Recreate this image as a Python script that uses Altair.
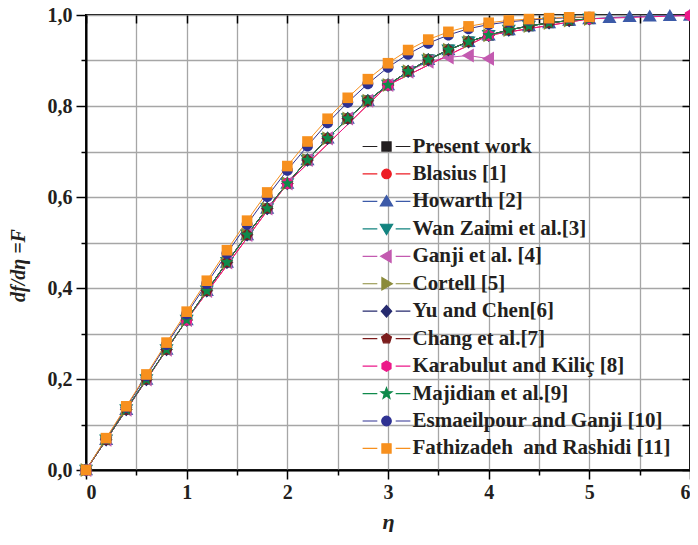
import altair as alt
import pandas as pd

series = ["Present work", "Blasius [1]", "Howarth [2]", "Wan Zaimi et al.[3]",
          "Ganji et al. [4]", "Cortell [5]", "Yu and Chen[6]", "Chang et al.[7]",
          "Karabulut and Kiliç [8]", "Majidian et al.[9]",
          "Esmaeilpour and Ganji [10]", "Fathizadeh\u00a0 and Rashidi [11]"]
colors = ["#231f20", "#ed1c24", "#3c5aa8", "#12837f", "#c35ab0", "#8b8b3a",
          "#262a6e", "#7b1c1c", "#ec1889", "#0f8a4b", "#2e3192", "#f7901e"]

eta_fine = [0.0, 0.2, 0.4, 0.6, 0.8, 1.0, 1.2, 1.4, 1.6, 1.8, 2.0, 2.2, 2.4, 2.6,
            2.8, 3.0, 3.2, 3.4, 3.6, 3.8, 4.0, 4.2, 4.4, 4.6, 4.8, 5.0, 5.2, 5.4,
            5.6, 5.8, 6.0]
f_blasius = [0.0, 0.0664, 0.1328, 0.1989, 0.2647, 0.3298, 0.3938, 0.4563, 0.5168,
             0.5748, 0.6298, 0.6813, 0.7290, 0.7725, 0.8115, 0.8461, 0.8761, 0.9018,
             0.9233, 0.9411, 0.9555, 0.9670, 0.9759, 0.9827, 0.9878, 0.9916, 0.9943,
             0.9962, 0.9975, 0.9984, 0.9990]
eta_int = [0, 1, 2, 3, 4, 5, 6]
f_int = [0.0, 0.3298, 0.6298, 0.8461, 0.9555, 0.9916, 0.9990]
eta_ganji = [0.0, 0.2, 0.4, 0.6, 0.8, 1.0, 1.2, 1.4, 1.6, 1.8, 2.0, 2.2, 2.4, 2.6,
             2.8, 3.0, 3.2, 3.4, 3.6, 3.8, 4.0]
f_ganji = [0.0, 0.0664, 0.1328, 0.1989, 0.2647, 0.3298, 0.3938, 0.4563, 0.5168,
           0.5748, 0.6298, 0.6813, 0.7290, 0.7725, 0.8115, 0.8461, 0.8755, 0.8975,
           0.9070, 0.9110, 0.9040]
eta_to5 = [0.0, 0.2, 0.4, 0.6, 0.8, 1.0, 1.2, 1.4, 1.6, 1.8, 2.0, 2.2, 2.4, 2.6,
           2.8, 3.0, 3.2, 3.4, 3.6, 3.8, 4.0, 4.2, 4.4, 4.6, 4.8, 5.0]
f_esmaeil = [0.0, 0.069, 0.138, 0.207, 0.276, 0.343, 0.410, 0.476, 0.540, 0.601,
             0.659, 0.712, 0.763, 0.808, 0.849, 0.885, 0.914, 0.938, 0.956, 0.970,
             0.979, 0.985, 0.989, 0.992, 0.994, 0.995]
f_fathi = [0.0, 0.070, 0.140, 0.210, 0.280, 0.348, 0.416, 0.483, 0.548, 0.610,
           0.668, 0.722, 0.772, 0.818, 0.859, 0.894, 0.923, 0.946, 0.963, 0.975,
           0.983, 0.988, 0.991, 0.993, 0.995, 0.996]

series_data = [
    (eta_to5, f_blasius[:26]),
    (eta_int[:6], f_int[:6]),
    (eta_fine, f_blasius),
    (eta_to5, f_blasius[:26]),
    (eta_ganji, f_ganji),
    (eta_to5, f_blasius[:26]),
    (eta_to5, f_blasius[:26]),
    (eta_to5, f_blasius[:26]),
    (eta_int, f_int),
    (eta_to5, f_blasius[:26]),
    (eta_to5, f_esmaeil),
    (eta_to5, f_fathi),
]

rows = []
for i, (name, (xs_, ys_)) in enumerate(zip(series, series_data)):
    for e, f in zip(xs_, ys_):
        rows.append({"series": name, "eta": e, "F": f, "k": i})
df = pd.DataFrame(rows)

# marker shapes (unit coordinates)
m_square = "M-0.75,-0.75H0.75V0.75H-0.75Z"
m_circle = "M-0.78,0A0.78,0.78,0,1,0,0.78,0A0.78,0.78,0,1,0,-0.78,0Z"
m_tup = "M0,-0.95L1,0.75L-1,0.75Z"
m_tdown = "M0,0.95L1,-0.75L-1,-0.75Z"
m_tleft = "M-0.95,0L0.75,-1L0.75,1Z"
m_tright = "M0.95,0L-0.75,-1L-0.75,1Z"
m_diamond = "M0,-0.95L0.85,0L0,0.95L-0.85,0Z"
m_pent = "M0,-0.85L0.808,-0.263L0.5,0.688L-0.5,0.688L-0.808,-0.263Z"
m_hex = "M0,-0.85L0.736,-0.425L0.736,0.425L0,0.85L-0.736,0.425L-0.736,-0.425Z"
m_star = ("M0,-0.95L0.235,-0.324L0.904,-0.294L0.38,0.124L0.558,0.769L0,0.4"
          "L-0.558,0.769L-0.38,0.124L-0.904,-0.294L-0.235,-0.324Z")
markers = [m_square, m_circle, m_tup, m_tdown, m_tleft, m_tright, m_diamond,
           m_pent, m_hex, m_star, m_circle, m_square]
leg_line = "M-3.9,0H-1.5M1.5,0H3.9"
legend_shapes = [leg_line + m for m in markers]

FONT = "Liberation Serif"
x_vals = [0, 0.5, 1, 1.5, 2, 2.5, 3, 3.5, 4, 4.5, 5, 5.5, 6]
y_vals = [0, 0.1, 0.2, 0.3, 0.4, 0.5, 0.6, 0.7, 0.8, 0.9, 1.0]

xs = alt.Scale(domain=[0, 6], nice=False, zero=False)
ys = alt.Scale(domain=[0, 1], nice=False, zero=False)
cscale = alt.Scale(domain=series, range=colors)

bottom_axis = alt.Axis(
    orient="bottom", values=x_vals, title="η", grid=True,
    gridColor="#a6a6a6", gridWidth=1.3, domainColor="black", domainWidth=2,
    tickColor="black", tickWidth=1.5,
    tickSize={"condition": {"test": "datum.value % 1 === 0", "value": 9}, "value": 5},
    labelExpr="datum.value % 1 === 0 ? format(datum.value, 'd') : ''",
    labelFont=FONT, labelFontSize=20, labelFontWeight="bold", labelColor="#231f20",
    labelPadding=3, labelOverlap=False,
    titleFont=FONT, titleFontSize=22, titleFontStyle="italic", titleFontWeight="bold",
    titleColor="#231f20", titleY=51, titleBaseline="middle")
left_axis = alt.Axis(
    orient="left", values=y_vals, title="df/dη =F", grid=True,
    gridColor="#a6a6a6", gridWidth=1.3, domainColor="black", domainWidth=2,
    tickColor="black", tickWidth=1.5,
    tickSize={"condition": {"test": "round(datum.value*10) % 2 === 0", "value": 10}, "value": 5},
    labelExpr="round(datum.value*10) % 2 === 0 ? replace(format(datum.value, '.1f'), '.', ',') : ''",
    labelFont=FONT, labelFontSize=20, labelFontWeight="bold", labelColor="#231f20",
    labelPadding=4, labelOverlap=False,
    titleFont=FONT, titleFontSize=20, titleFontStyle="italic", titleFontWeight="bold",
    titleColor="#231f20", titleX=-68, titleY=250, titleBaseline="middle", titleAngle=270)
top_axis = alt.Axis(orient="top", values=x_vals, title=None, grid=False, domain=False,
                    labels=False, tickColor="black", tickWidth=1.5, tickSize=8, offset=-8)
right_axis = alt.Axis(orient="right", values=y_vals, title=None, grid=False, domain=False,
                      labels=False, tickColor="black", tickWidth=1.5, tickSize=8, offset=-8)

base = alt.Chart(df)

lines = base.mark_line(strokeWidth=1, opacity=1).encode(
    x=alt.X("eta:Q", scale=xs, axis=bottom_axis),
    y=alt.Y("F:Q", scale=ys, axis=left_axis),
    color=alt.Color("series:N", scale=cscale, legend=None),
)

points = base.mark_point(filled=True, opacity=1, size=200, strokeWidth=0).encode(
    x=alt.X("eta:Q", scale=xs, axis=top_axis),
    y=alt.Y("F:Q", scale=ys, axis=right_axis),
    color=alt.Color("series:N", scale=cscale, legend=None),
    shape=alt.Shape("series:N", scale=alt.Scale(domain=series, range=markers), legend=None),
)

leg = alt.Legend(
    orient="none", legendX=290, legendY=121, title=None,
    labelFont=FONT, labelFontSize=21, labelFontWeight="bold", labelColor="#231f20",
    labelLimit=600, symbolSize=150, symbolStrokeWidth=1.2, labelOffset=15.5,
    rowPadding=5.45, padding=0, symbolOpacity=1)

legend_layer = base.transform_filter("datum.eta < 0").mark_point(
    filled=True, opacity=1, size=150, strokeWidth=1.2).encode(
    x=alt.X("eta:Q", scale=xs, axis=None),
    y=alt.Y("F:Q", scale=ys, axis=None),
    fill=alt.Fill("series:N", scale=alt.Scale(domain=series, range=colors), legend=leg),
    stroke=alt.Stroke("series:N", scale=alt.Scale(domain=series, range=colors), legend=leg),
    shape=alt.Shape("series:N", scale=alt.Scale(domain=series, range=legend_shapes), legend=leg),
)

chart = alt.layer(lines, points, legend_layer).resolve_axis(
    x="independent", y="independent"
).resolve_scale(
    shape="independent", fill="independent", stroke="independent", color="independent"
).properties(
    width=604, height=455,
    autosize=alt.AutoSizeParams(type="none"),
    padding={"left": 78, "top": 7, "right": 0, "bottom": 62},
    background="white",
).configure_view(stroke="black", strokeWidth=2)

chart.save("out.html", embed_options={"renderer": "svg", "actions": False})
